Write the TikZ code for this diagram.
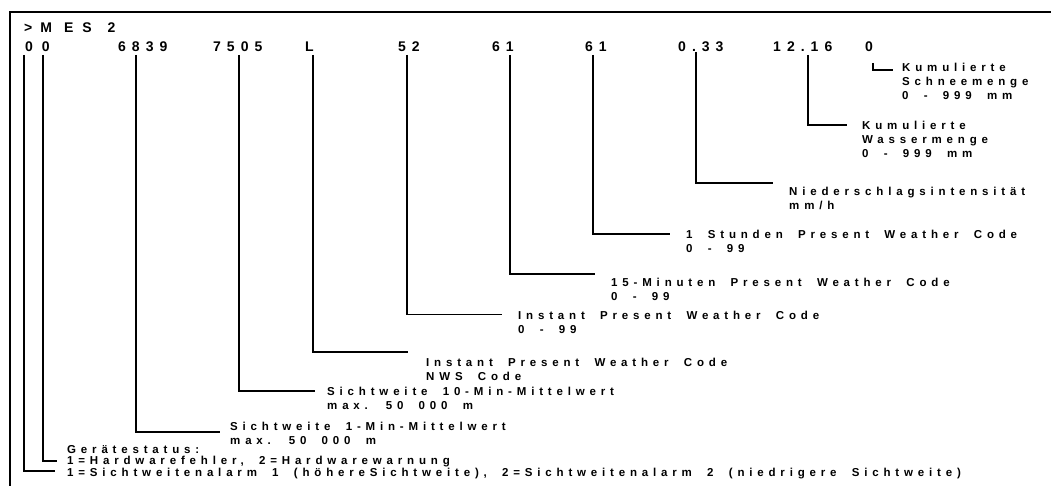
\documentclass[tikz,border=0pt]{standalone}
\usepackage{fontspec}
\setmainfont{Liberation Sans}
\newfontfamily\lblfont{Liberation Sans}[LetterSpace=42,WordSpace=1.9]
\newfontfamily\hdrfont{Liberation Sans}[LetterSpace=43,WordSpace=1]
\newfontfamily\plainfont{Liberation Sans}
\newcommand\rows[1]{\begin{tabular}[t]{@{}l@{}}#1\end{tabular}}
\tikzset{
  lbl/.style={anchor=base west, inner sep=0pt, font=\lblfont\bfseries\fontsize{11.5}{14.3}\selectfont},
  lblsmall/.style={anchor=base west, inner sep=0pt, font=\lblfont\bfseries\fontsize{11.5}{11.6}\selectfont},
  hdr/.style={anchor=base west, inner sep=0pt, font=\hdrfont\bfseries\fontsize{14}{16}\selectfont},
  hdrplain/.style={anchor=base west, inner sep=0pt, font=\plainfont\bfseries\fontsize{14}{16}\selectfont},
  conn/.style={line width=1.4pt},
  frameline/.style={line width=2pt}
}
\begin{document}
\begin{tikzpicture}[x=1pt,y=-1pt]
\useasboundingbox (0,0) rectangle (1051,486);
\draw[frameline] (10,486) -- (10,12) -- (1051,12);
% header
\node[hdrplain] (title) at (24,32.3) {>\kern8pt M\kern12pt E\kern9pt S\kern16pt 2};
\node[hdrplain] (h00) at (25,51.7) {0\kern9pt 0};
\node[hdr] (h6839) at (118,51.7) {6839};
\node[hdr] (h7505) at (213,51.7) {7505};
\node[hdr] (hL) at (305,51.7) {L};
\node[hdr] (h52) at (398,51.7) {52};
\node[hdr] (h61a) at (492,51.7) {61};
\node[hdr] (h61b) at (585,51.7) {61};
\node[hdr] (h033) at (678,51.7) {0.33};
\node[hdr] (h1216) at (773,51.7) {12.16};
\node[hdr] (h0) at (865,51.7) {0};
% labels
\node[lbl] (schnee) at (902,71.1) {\rows{Kumulierte\\Schneemenge\\0 - 999 mm}};
\node[lbl] (wasser) at (862,129.1) {\rows{Kumulierte\\Wassermenge\\0 - 999 mm}};
\node[lbl] (nied) at (789,195.1) {\rows{Niederschlagsintensität\\mm/h}};
\node[lbl] (std) at (686,238.1) {\rows{1 Stunden Present Weather Code\\0 - 99}};
\node[lbl] (min15) at (611,286.1) {\rows{15-Minuten Present Weather Code\\0 - 99}};
\node[lbl] (inst) at (518,319.1) {\rows{Instant Present Weather Code\\0 - 99}};
\node[lbl] (nws) at (426,366.1) {\rows{Instant Present Weather Code\\NWS Code}};
\node[lbl] (sw10) at (327,395.1) {\rows{Sichtweite 10-Min-Mittelwert\\max. 50 000 m}};
\node[lbl] (sw1) at (230,430.1) {\rows{Sichtweite 1-Min-Mittelwert\\max. 50 000 m}};
\node[lblsmall] (status) at (67,453.1) {\rows{Gerätestatus:\\1=Hardwarefehler, 2=Hardwarewarnung\\1=Sichtweitenalarm 1 (höhereSichtweite), 2=Sichtweitenalarm 2 (niedrigere Sichtweite)}};
% connector coordinates
\coordinate (sa) at (873,63);  \coordinate (ea) at (893,70);
\coordinate (sb) at (808,55);  \coordinate (eb) at (847,125);
\coordinate (sc) at (696,52);  \coordinate (ec) at (773,183);
\coordinate (sd) at (593,55);  \coordinate (ed) at (670,234);
\coordinate (se) at (510,55);  \coordinate (ee) at (595,274);
\coordinate (sf) at (407,55);  \coordinate (ef) at (502,314.5);
\coordinate (sg) at (313,55);  \coordinate (eg) at (408,352);
\coordinate (sh) at (239,55);  \coordinate (eh) at (315,391);
\coordinate (si) at (136,55);  \coordinate (ei) at (220,432);
\coordinate (sj) at (43,55);   \coordinate (ej) at (57,461);
\coordinate (sk) at (24,55);   \coordinate (ek) at (55,471);
\foreach \c in {a,b,c,d,e,f,g,h,i,j,k}{\draw[conn] (s\c) |- (e\c);}
\end{tikzpicture}
\end{document}
